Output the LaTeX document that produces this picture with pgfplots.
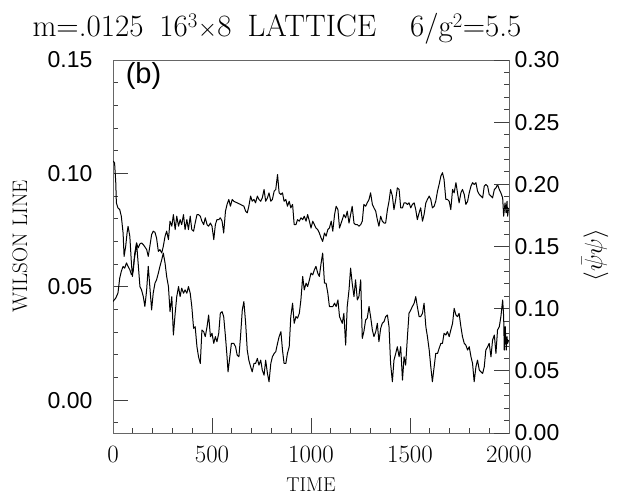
\documentclass[border=0pt]{standalone}
\usepackage{pgfplots}
\usepackage{pgfplotstable}
\pgfplotsset{compat=1.18}
\usepackage{fontspec}
\newfontfamily\hel{Liberation Sans}

\pgfplotstableread{
t v
0 0.0435
14 0.0450
25 0.0472
34 0.0538
42 0.0568
51 0.0590
59 0.0582
68 0.0605
76 0.0590
85 0.0575
93 0.0553
102 0.0568
110 0.0649
119 0.0693
127 0.0671
136 0.0689
144 0.0693
153 0.0686
170 0.0664
178 0.0634
186 0.0678
195 0.0730
203 0.0745
212 0.0740
220 0.0715
229 0.0656
237 0.0664
246 0.0649
254 0.0678
263 0.0723
271 0.0745
280 0.0708
288 0.0789
297 0.0767
305 0.0818
314 0.0752
322 0.0811
331 0.0767
339 0.0796
347 0.0774
356 0.0818
364 0.0752
373 0.0796
381 0.0752
390 0.0811
398 0.0752
407 0.0745
415 0.0781
424 0.0818
432 0.0818
441 0.0811
449 0.0789
458 0.0774
466 0.0804
475 0.0774
483 0.0767
492 0.0781
500 0.0767
509 0.0708
517 0.0774
525 0.0796
534 0.0796
542 0.0804
551 0.0789
559 0.0737
568 0.0833
576 0.0863
585 0.0885
593 0.0855
602 0.0885
610 0.0877
627 0.0870
644 0.0863
661 0.0855
670 0.0833
678 0.0826
686 0.0855
695 0.0900
703 0.0877
712 0.0885
720 0.0870
729 0.0900
737 0.0885
746 0.0877
754 0.0892
763 0.0929
771 0.0877
780 0.0892
788 0.0914
797 0.0877
805 0.0885
814 0.0922
822 0.0929
831 0.0995
839 0.0914
848 0.0907
856 0.0914
864 0.0877
873 0.0885
881 0.0855
890 0.0877
898 0.0848
907 0.0863
915 0.0774
924 0.0774
932 0.0796
941 0.0789
949 0.0804
958 0.0796
966 0.0811
975 0.0789
983 0.0818
992 0.0789
1000 0.0759
1009 0.0789
1017 0.0774
1025 0.0759
1034 0.0752
1042 0.0737
1051 0.0715
1059 0.0700
1068 0.0737
1076 0.0723
1085 0.0752
1093 0.0759
1102 0.0789
1110 0.0745
1119 0.0818
1127 0.0855
1136 0.0840
1144 0.0759
1158 0.0796
1166 0.0818
1175 0.0804
1183 0.0833
1192 0.0781
1200 0.0818
1208 0.0855
1217 0.0781
1225 0.0774
1234 0.0774
1242 0.0767
1251 0.0774
1259 0.0789
1267 0.0863
1276 0.0855
1284 0.0870
1293 0.0885
1301 0.0914
1310 0.0863
1318 0.0848
1327 0.0833
1335 0.0796
1343 0.0767
1352 0.0811
1360 0.0789
1369 0.0781
1377 0.0781
1386 0.0840
1394 0.0877
1402 0.0929
1411 0.0900
1419 0.0840
1428 0.0885
1436 0.0936
1445 0.0929
1453 0.0848
1462 0.0848
1470 0.0870
1478 0.0870
1487 0.0863
1495 0.0870
1504 0.0848
1512 0.0863
1521 0.0870
1529 0.0840
1537 0.0796
1546 0.0826
1554 0.0848
1563 0.0789
1571 0.0818
1580 0.0870
1588 0.0885
1597 0.0900
1605 0.0885
1613 0.0848
1622 0.0855
1630 0.0877
1639 0.0922
1647 0.0951
1656 0.0988
1664 0.1003
1672 0.0973
1681 0.0885
1689 0.0885
1698 0.0877
1706 0.0840
1715 0.0929
1723 0.0914
1732 0.0959
1740 0.0914
1748 0.0870
1757 0.0914
1765 0.0929
1774 0.0907
1782 0.0863
1791 0.0877
1799 0.0914
1808 0.0944
1816 0.0959
1824 0.0951
1833 0.0959
1841 0.0922
1850 0.0907
1858 0.0900
1867 0.0892
1875 0.0944
1883 0.0951
1892 0.0944
1900 0.0907
1909 0.0900
1917 0.0892
1926 0.0929
1934 0.0936
1942 0.0951
1951 0.0929
1959 0.0914
1968 0.0892
1973 0.0811
1980 0.0870
1985 0.0826
1990 0.0877
1993 0.0811
1998 0.0848
}\wilson

\pgfplotstableread{
t r
0 0.2187
8 0.2173
14 0.2012
17 0.1851
25 0.1810
34 0.1797
42 0.1743
51 0.1608
56 0.1420
64 0.1501
71 0.1608
76 0.1662
85 0.1582
93 0.1366
98 0.1259
107 0.1393
114 0.1461
119 0.1528
127 0.1366
136 0.1178
144 0.1151
153 0.1097
161 0.1017
170 0.1151
178 0.1340
186 0.1178
195 0.0990
203 0.1124
212 0.1205
220 0.1232
229 0.1286
237 0.1340
246 0.1393
254 0.1447
263 0.1366
271 0.1259
280 0.1178
288 0.0976
297 0.1097
305 0.0788
314 0.0963
322 0.1097
331 0.1178
339 0.1097
347 0.1165
356 0.1124
364 0.1151
373 0.1124
381 0.1178
390 0.1124
398 0.1017
407 0.0842
415 0.0855
424 0.0694
432 0.0613
441 0.0559
449 0.0828
458 0.0815
466 0.0775
475 0.0855
483 0.0949
492 0.0775
500 0.0802
509 0.0721
517 0.0775
525 0.0734
534 0.0802
542 0.0963
551 0.0976
559 0.0936
568 0.0775
576 0.0613
581 0.0492
590 0.0613
598 0.0721
610 0.0721
619 0.0694
627 0.0627
636 0.0613
644 0.0775
653 0.0990
661 0.1057
670 0.0882
678 0.0667
686 0.0586
695 0.0533
703 0.0492
712 0.0559
720 0.0559
729 0.0600
737 0.0546
746 0.0586
754 0.0506
763 0.0465
771 0.0586
780 0.0479
788 0.0412
797 0.0559
805 0.0613
814 0.0640
822 0.0654
831 0.0721
839 0.0775
848 0.0815
856 0.0667
864 0.0559
873 0.0559
881 0.0640
890 0.0694
898 0.0936
907 0.1044
915 0.0882
924 0.0936
932 0.0923
941 0.0963
949 0.1070
958 0.1259
966 0.1151
975 0.1205
983 0.1178
992 0.1232
1000 0.1286
1009 0.1272
1017 0.1313
1025 0.1340
1034 0.1286
1042 0.1259
1051 0.1366
1059 0.1447
1068 0.1205
1076 0.1205
1085 0.1124
1093 0.1017
1102 0.1017
1110 0.1017
1119 0.1044
1127 0.1017
1136 0.1070
1144 0.0936
1158 0.0882
1166 0.0963
1175 0.0707
1183 0.1017
1192 0.1151
1200 0.1326
1208 0.1205
1217 0.1097
1225 0.1232
1234 0.1070
1242 0.1097
1251 0.1232
1259 0.0761
1267 0.0815
1276 0.0909
1284 0.0923
1293 0.1017
1301 0.0936
1310 0.0828
1318 0.0775
1327 0.0815
1335 0.0882
1343 0.0734
1352 0.0842
1360 0.0882
1369 0.0896
1377 0.0936
1386 0.0949
1394 0.0855
1402 0.0559
1411 0.0412
1419 0.0586
1428 0.0640
1436 0.0694
1445 0.0613
1453 0.0694
1462 0.0425
1470 0.0613
1478 0.0546
1487 0.0775
1495 0.0963
1504 0.0990
1512 0.1017
1521 0.1044
1529 0.1097
1537 0.1017
1546 0.0936
1554 0.0936
1563 0.0963
1571 0.1044
1580 0.0855
1588 0.0775
1597 0.0667
1605 0.0533
1613 0.0412
1622 0.0533
1630 0.0640
1639 0.0640
1647 0.0680
1656 0.0721
1664 0.0721
1672 0.0802
1681 0.0788
1689 0.0815
1698 0.0775
1706 0.0828
1715 0.0882
1723 0.1003
1732 0.0949
1740 0.0936
1748 0.0963
1757 0.0855
1765 0.0775
1774 0.0721
1782 0.0707
1791 0.0667
1799 0.0694
1808 0.0613
1816 0.0559
1824 0.0412
1833 0.0533
1841 0.0586
1850 0.0506
1858 0.0492
1867 0.0479
1875 0.0533
1883 0.0667
1892 0.0694
1900 0.0721
1909 0.0613
1917 0.0748
1926 0.0788
1934 0.0640
1942 0.0828
1951 0.0855
1959 0.0936
1968 0.1070
1973 0.0936
1976 0.0667
1981 0.0855
1986 0.0667
1990 0.0775
1993 0.0721
1998 0.0748
}\pbp

\begin{document}
\begin{tikzpicture}[x=1pt,y=1pt]
\path[use as bounding box] (0,0) rectangle (618,495);
\pgfplotsset{
  common/.style={
    at={(113pt,62pt)}, anchor=south west,
    width=396pt, height=373pt, scale only axis,
    xmin=0, xmax=2000,
    axis line style={black!60, line width=0.8pt},
    every tick/.style={black!75, line width=0.8pt},
    major tick length=15pt, minor tick length=5pt,
    tick align=inside,
  }
}
\begin{axis}[common,
  ymin=-0.0145, ymax=0.15,
  xtick={0,500,1000,1500,2000},
  minor xtick={100,200,300,400,600,700,800,900,1100,1200,1300,1400,1600,1700,1800,1900},
  ytick={0,0.05,0.10,0.15},
  minor ytick={-0.01,0.01,0.02,0.03,0.04,0.06,0.07,0.08,0.09,0.11,0.12,0.13,0.14},
  xtick pos=bottom, ytick pos=left,
  xticklabel style={font=\fontsize{25}{25}\selectfont, yshift=-10pt, /pgf/number format/1000 sep={}},
  scaled x ticks=false,
  yticklabel style={font=\hel\fontsize{23}{23}\selectfont, xshift=-17pt,
    /pgf/number format/assume math mode=true},
  yticklabel={\pgfmathprintnumber[fixed,fixed zerofill,precision=2]{\tick}},
  scaled y ticks=false,
  xlabel={TIME},
  xlabel style={font=\fontsize{20}{20}\selectfont, inner sep=0pt, at={(axis description cs:0.5,-0.138)}, anchor=center},
  ylabel={WILSON LINE},
  ylabel style={font=\fontsize{21}{21}\selectfont, at={(axis description cs:-0.235,0.5)}, anchor=center},
]
\addplot[black, line width=1pt, line join=round] table[x=t,y=v] {\wilson};
\node[font=\hel\fontsize{29}{29}\selectfont] at (axis description cs:0.077,0.958) {(b)};
\end{axis}
\begin{axis}[common,
  ymin=0, ymax=0.30,
  axis x line=none, axis y line*=right,
  ytick={0,0.05,0.10,0.15,0.20,0.25,0.30},
  minor ytick={0.01,0.02,0.03,0.04,0.06,0.07,0.08,0.09,0.11,0.12,0.13,0.14,0.16,0.17,0.18,0.19,0.21,0.22,0.23,0.24,0.26,0.27,0.28,0.29},
  yticklabel style={font=\hel\fontsize{23}{23}\selectfont, xshift=2pt,
    /pgf/number format/assume math mode=true},
  yticklabel={\pgfmathprintnumber[fixed,fixed zerofill,precision=2]{\tick}},
  scaled y ticks=false,
  ylabel={$\langle\bar{\psi}\psi\rangle$},
  ylabel style={font=\fontsize{24}{24}\selectfont, at={(axis description cs:1.217,0.477)}, anchor=center, rotate=0},
]
\addplot[black, line width=1pt, line join=round] table[x=t,y=r] {\pbp};
\end{axis}
\node[anchor=base, font=\fontsize{31}{31}\selectfont] at (277,458)
  {m=.0125\hspace{16pt}16$^{3}{\times}$8\hspace{16pt}LATTICE\hspace{34pt}6/g$^{2}$=5.5};
\end{tikzpicture}
\end{document}
